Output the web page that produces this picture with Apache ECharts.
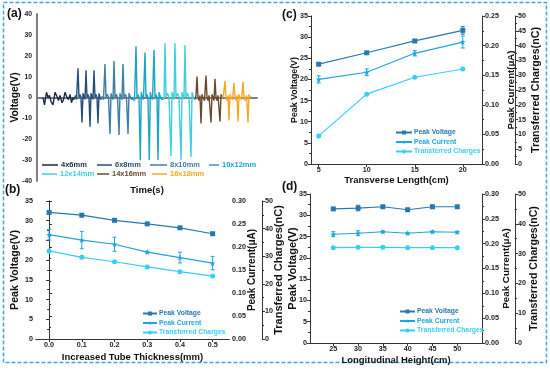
<!DOCTYPE html>
<html><head><meta charset="utf-8">
<script src="https://cdn.jsdelivr.net/npm/echarts@6/dist/echarts.min.js"></script>
<style>html,body{margin:0;padding:0;background:#fff}#c{width:550px;height:371px}</style>
</head><body><div id="c"></div>
<script>
// ---------- Panel (a): voltage waveforms (time in arbitrary units) ----------
const aNames = ['4x6mm','6x8mm','8x10mm','10x12mm','12x14mm','14x16mm','16x18mm'];
const aColors = ['#1b2a47','#25507a','#3d7fa6','#1ea3c9','#40d0dd','#6b4a2b','#f7a823'];
const a_4x6 = [[6,0],[7.5,-3.5],[9.5,2.5],[11,0],[12.5,1],[14,-2],[16,-3.5],[18,2.5],[20,0.5],[21.5,-1.5],[23,1],[25,-2.5],[26.5,-1],[28,2.5],[30,0],[31.5,-1],[33,1.5],[34.5,-2.5],[36,0],[37,-1]];
const a_6x8 = [[37,-1],[38.5,1],[39.5,-1],[41,14],[42,0],[43,1.5],[44,0],[45,-12],[46,2],[47,0.5],[48,-1],[49,13],[50,0],[51,1.5],[52,0],[53,-14],[54,2],[55,0.5],[56,-1],[57,13],[58,0],[59,1.5],[60,0],[61,-12.5],[62,2],[63,0],[64,-1]];
const a_8x10 = [[64,-1],[65,0.5],[66.5,-1],[68,16],[69,0],[70.5,1.5],[71.5,0],[73,-17.5],[74,2],[75,0],[76,-1],[77,17.5],[78,0],[79.5,1.5],[80.5,0],[82,-18],[83,2],[84,0],[85,-1],[86,16],[87,0],[88.5,1.5],[89.5,0],[91,-17.5],[92,2],[93.5,0],[95,-1],[96,0]];
const a_10x12 = [[96,0],[97.5,-1.5],[99,24.5],[100,0],[101,1.5],[102,0],[103.3,-30],[104.3,2.5],[105.5,0],[106.5,-1],[108,21.5],[109,0],[110,1.5],[111,0],[112.3,-30],[113.3,2.5],[114.5,0],[115.5,-1],[117,22.8],[118,0],[119,1.5],[120,0],[121,-30],[122,2.5],[123.5,0],[125,-1],[126,0]];
const a_12x14 = [[126,0],[127,-1],[128,26],[129,0],[130.5,2],[132,0],[134,-28],[135,2.5],[136.5,0],[137,-1],[138,26],[139,0],[140.5,2],[142,0],[144,-30],[145,2.5],[146.5,0],[147,-1],[148,25],[149,0],[150.5,2],[152,0],[154,-28.5],[155,2.5],[156.5,0],[158,-1]];
const a_14x16 = [[158,-1],[159,1],[160,10],[161,0],[162,-1.5],[163,1],[164,-12.5],[165,1.5],[166,0],[167.5,-1.5],[169,10.5],[170,0],[171,-1.5],[172,1],[174,-12],[175,1.5],[176,0],[177,-1.5],[178,9],[179,0],[180,-1.5],[181,1],[183,-11.5],[184,1.5],[185,0]];
const a_16x18 = [[185,0],[186.5,1],[188,8],[189,0],[190,-1.5],[191,1],[192,-11],[193,1.5],[194,0],[195.5,-1],[197,7],[198,0],[199,-1.5],[200,1],[201,-11.5],[202,1.5],[203,0],[204.5,-1],[206,7.5],[207,0],[208,-1.5],[209.5,1],[211,-12],[212,1.5],[213,0],[214,0.5]];
const aData = [a_4x6,a_6x8,a_8x10,a_10x12,a_12x14,a_14x16,a_16x18];

// ---------- Panel (b): increased tube thickness ----------
const bThickness = [0.0,0.1,0.2,0.3,0.4,0.5];
const bVoltage   = [32.1,31.4,30.1,29.2,28.2,26.7];
const bCurrent   = [0.227,0.215,0.206,0.189,0.177,0.165];
const bCurrentErr= [0.0116,0.0189,0.0152,0.002,0.0116,0.0146];
const bCharges   = [31.9,29.6,28.0,26.1,24.4,22.8];
const bXLabels   = [0.0,0.1,0.2,0.3,0.4,0.5];

// ---------- Panel (c): transverse length ----------
const cLength    = [5,10,15,20];
const cVoltage   = [23.6,26.3,29.1,31.6];
const cVoltageErr= [0.2,0.2,0.3,0.9];
const cCurrent   = [0.143,0.155,0.187,0.206];
const cCurrentErr= [0.006,0.0056,0.0045,0.0101];
const cCharges   = [9.5,23.6,29.3,32.1];
const cXLabels   = [5,10,15,20];

// ---------- Panel (d): longitudinal height ----------
const dHeight    = [25,30,35,40,45,50];
const dVoltage   = [31.5,31.7,32.0,31.3,32.0,32.0];
const dVoltageErr= [0.15,0.66,0.15,0.15,0.4,0.15];
const dCurrent   = [0.219,0.221,0.224,0.221,0.224,0.223];
const dCurrentErr= [0.005,0.005,0.002,0.002,0.002,0.002];
const dCharges   = [32.0,32.1,32.1,32.0,32.0,32.0];
const dXLabels   = [25,30,35,40,45,50];

const seriesNames = ['Peak Voltage','Peak Current','Transferred Charges'];
const sColors = ['#2878b0','#20a4e0','#38cef5'];
const starPath = 'path://M50,0 L61,35 L98,35 L68,57 L79,91 L50,70 L21,91 L32,57 L2,35 L39,35 Z';
const sSymbols = ['rect', starPath, 'circle'];

const FONT = 'Liberation Sans';
const AX = '#333';

function lab(size, fmt, extra) {
  return Object.assign({fontFamily: FONT, fontWeight: 'bold', fontSize: size, color: '#222', margin: 3, formatter: fmt}, extra || {});
}
function nameStyle(size) { return {fontFamily: FONT, fontWeight: 'bold', fontSize: size, color: '#111'}; }
const tick = {show: true, length: 3, lineStyle: {color: AX, width: 1}};
const minor = {show: true, splitNumber: 2, length: 2, lineStyle: {color: AX, width: 1}};
const axLine = {show: true, lineStyle: {color: AX, width: 1}};

const grids = [
  {left: 37, top: 14, width: 220, height: 167},
  {left: 36, top: 201, width: 193, height: 138},
  {left: 311, top: 16, width: 171, height: 148},
  {left: 310, top: 194, width: 172, height: 149}
];

const xAxes = [];
const yAxes = [];
// panel a
xAxes.push({type: 'value', gridIndex: 0, min: 0, max: 220, axisLine: {show: true, lineStyle: {color: '#777', width: 1.5}},
  axisTick: {show: false}, axisLabel: {show: false}, splitLine: {show: false},
  name: 'Time(s)', nameLocation: 'middle', nameGap: 4, nameMoveOverlap: false,
  nameTextStyle: Object.assign(nameStyle(9.5), {verticalAlign: 'top'})});
xAxes.push({type: 'value', gridIndex: 0, position: 'top', min: 0, max: 220, axisLine: {show: true, lineStyle: {color: '#777', width: 1.5}},
  axisTick: {show: false}, axisLabel: {show: false}, splitLine: {show: false}});
yAxes.push({type: 'value', gridIndex: 0, min: -40, max: 40, interval: 10,
  axisLine: {show: true, lineStyle: {color: '#777', width: 1.5}}, axisTick: {show: false},
  axisLabel: lab(6.8, null, {margin: 5}), splitLine: {show: false},
  name: 'Voltage(V)', nameLocation: 'middle', nameRotate: 90, nameGap: 17, nameMoveOverlap: false, nameTextStyle: nameStyle(10.3)});
yAxes.push({type: 'value', gridIndex: 0, position: 'right', min: -40, max: 40,
  axisLine: {show: true, lineStyle: {color: '#777', width: 1.5}}, axisTick: {show: false}, axisLabel: {show: false}, splitLine: {show: false}});

function panelAxes(gi, xmin, xmax, xLabels, xfmt, xName, xGap, leftGap, leftFont, r1max, r1Gap, r1Font, r2interval, r2Gap, r2Font) {
  xAxes.push({type: 'value', gridIndex: gi, min: xmin, max: xmax,
    axisLine: axLine, axisTick: Object.assign({customValues: xLabels}, tick),
    axisLabel: lab(7.2, xfmt, {customValues: xLabels}), splitLine: {show: false},
    name: xName, nameLocation: 'middle', nameGap: xGap, nameMoveOverlap: false,
    nameTextStyle: Object.assign(nameStyle(9.5), {verticalAlign: 'top'})});
  xAxes.push({type: 'value', gridIndex: gi, position: 'top', min: xmin, max: xmax, axisLine: axLine,
    axisTick: {show: false}, axisLabel: {show: false}, splitLine: {show: false}});
  yAxes.push({type: 'value', gridIndex: gi, min: 0, max: 35, interval: 5, axisLine: axLine, axisTick: tick, minorTick: minor,
    axisLabel: lab(7.2), splitLine: {show: false},
    name: 'Peak Voltage(V)', nameLocation: 'middle', nameRotate: 90, nameGap: leftGap, nameMoveOverlap: false, nameTextStyle: nameStyle(leftFont)});
  yAxes.push({type: 'value', gridIndex: gi, position: 'right', min: 0, max: r1max, interval: 0.05, axisLine: axLine, axisTick: tick, minorTick: minor,
    axisLabel: lab(7.2, v => v.toFixed(2)), splitLine: {show: false},
    name: 'Peak Current(μA)', nameLocation: 'middle', nameRotate: 90, nameGap: r1Gap, nameMoveOverlap: false, nameTextStyle: nameStyle(r1Font)});
  yAxes.push({type: 'value', gridIndex: gi, position: 'right', offset: 33, min: 0, max: 50, interval: r2interval, axisLine: axLine, axisTick: tick, minorTick: minor,
    axisLabel: lab(7.2), splitLine: {show: false},
    name: 'Transferred Charges(nC)', nameLocation: 'middle', nameRotate: 90, nameGap: r2Gap, nameMoveOverlap: false, nameTextStyle: nameStyle(r2Font)});
}
// b: x axes 2,3 ; y axes 2,3,4
panelAxes(1, -0.04, 0.55, bXLabels, v => v.toFixed(1), 'Increased Tube Thickness(mm)', 13, 15.6, 10.7, 0.30, 18, 10, 10, 11.5, 11);
// c: x axes 4,5 ; y axes 5,6,7
panelAxes(2, 4.2, 22, cXLabels, null, 'Transverse Length(cm)', 11, 12, 8.8, 0.25, 24, 9.6, 5, 15.6, 10.7);
// d: x axes 6,7 ; y axes 8,9,10
panelAxes(3, 20.3, 55, dXLabels, null, 'Longitudinal Height(cm)', 12, 12, 11, 0.30, 19, 9.8, 10, 13.7, 10.6);

const series = [];
aData.forEach((d, i) => {
  series.push({type: 'line', name: aNames[i], xAxisIndex: 0, yAxisIndex: 0, data: d, symbol: 'none',
    lineStyle: {color: aColors[i], width: 1.4}, itemStyle: {color: aColors[i]}, animation: false});
});

function errSeries(xi, yi, xs, vals, errs, color) {
  return {type: 'custom', xAxisIndex: xi, yAxisIndex: yi, silent: true, animation: false, z: 1,
    data: xs.map((x, k) => [x, vals[k] - errs[k], vals[k] + errs[k]]),
    renderItem: function (params, api) {
      const x = api.value(0);
      const p1 = api.coord([x, api.value(1)]);
      const p2 = api.coord([x, api.value(2)]);
      const w = 2;
      const st = {stroke: color, lineWidth: 1};
      return {type: 'group', children: [
        {type: 'line', shape: {x1: p1[0], y1: p1[1], x2: p2[0], y2: p2[1]}, style: st},
        {type: 'line', shape: {x1: p1[0] - w, y1: p1[1], x2: p1[0] + w, y2: p1[1]}, style: st},
        {type: 'line', shape: {x1: p2[0] - w, y1: p2[1], x2: p2[0] + w, y2: p2[1]}, style: st}
      ]};
    }};
}
function lineSeries(k, xi, yi, xs, vals) {
  return {type: 'line', name: seriesNames[k], xAxisIndex: xi, yAxisIndex: yi, data: xs.map((x, j) => [x, vals[j]]),
    symbol: sSymbols[k], symbolSize: k === 1 ? 6 : 5, showSymbol: true, z: 3,
    lineStyle: {color: sColors[k], width: 1.2}, itemStyle: {color: sColors[k]}, animation: false};
}
// panel b
series.push(errSeries(2, 3, bThickness, bCurrent, bCurrentErr, sColors[1]));
series.push(lineSeries(0, 2, 2, bThickness, bVoltage));
series.push(lineSeries(1, 2, 3, bThickness, bCurrent));
series.push(lineSeries(2, 2, 4, bThickness, bCharges));
// panel c
series.push(errSeries(4, 5, cLength, cVoltage, cVoltageErr, sColors[0]));
series.push(errSeries(4, 6, cLength, cCurrent, cCurrentErr, sColors[1]));
series.push(lineSeries(0, 4, 5, cLength, cVoltage));
series.push(lineSeries(1, 4, 6, cLength, cCurrent));
series.push(lineSeries(2, 4, 7, cLength, cCharges));
// panel d
series.push(errSeries(6, 8, dHeight, dVoltage, dVoltageErr, sColors[0]));
series.push(errSeries(6, 9, dHeight, dCurrent, dCurrentErr, sColors[1]));
series.push(lineSeries(0, 6, 8, dHeight, dVoltage));
series.push(lineSeries(1, 6, 9, dHeight, dCurrent));
series.push(lineSeries(2, 6, 10, dHeight, dCharges));

// legends
const legends = [];
const aLegPos = [[42,161,16],[97,161,15],[150,161,17],[209,161,10],[42,170,15],[97,170,12],[152,170,15]];
aNames.forEach((n, i) => {
  legends.push({data: [n], left: aLegPos[i][0], top: aLegPos[i][1], padding: 0, itemWidth: aLegPos[i][2], itemHeight: 1.5,
    icon: 'rect', selectedMode: false,
    textStyle: {fontFamily: FONT, fontWeight: 'bold', fontSize: 7.5, color: aColors[i], padding: [0,0,0,-2]}});
});
function panelLegend(left, top, w) {
  return {orient: 'vertical', left: left, top: top, padding: 0, itemGap: 2.5, itemWidth: w, itemHeight: 5, selectedMode: false,
    data: seriesNames.map((n, k) => ({name: n, textStyle: {color: sColors[k]}})),
    textStyle: {fontFamily: FONT, fontWeight: 'bold', fontSize: 6.8, padding: [0,0,0,-3]}};
}
legends.push(panelLegend(142, 310, 14));
legends.push(panelLegend(395, 129, 16));
legends.push(panelLegend(399, 308, 15));

function ptext(t, x, y) {
  return {type: 'text', left: x, top: y, style: {text: t, fontFamily: FONT, fontWeight: 'bold', fontSize: 12, fill: '#111'}};
}

const chart = echarts.init(document.getElementById('c'), null, {renderer: 'canvas'});
chart.setOption({
  backgroundColor: '#fff',
  animation: false,
  grid: grids,
  xAxis: xAxes,
  yAxis: yAxes,
  legend: legends,
  series: series,
  graphic: [
    {type: 'rect', shape: {x: 3.5, y: 2.5, width: 543, height: 360}, style: {fill: 'none', stroke: '#3fa7d6', lineWidth: 1.5, lineDash: [4, 2]}, z: -1},
    ptext('(a)', 7, 8),
    ptext('(b)', 5, 184),
    ptext('(c)', 282, 9),
    ptext('(d)', 282, 181)
  ]
});
</script></body></html>
